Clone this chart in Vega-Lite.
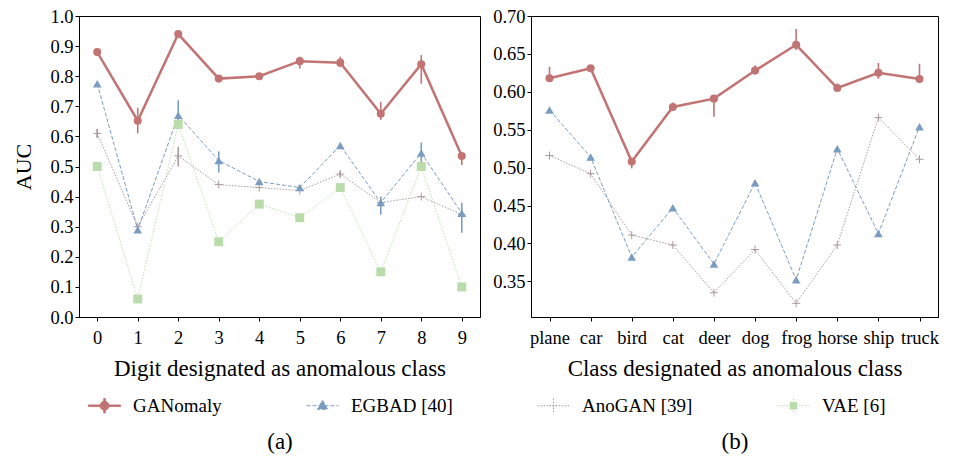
{
  "$schema": "https://vega.github.io/schema/vega-lite/v6.json",
  "padding": {"left": 12, "top": 6, "right": 5, "bottom": 5},
  "background": "white",
  "datasets": {
    "mnist": [
      {"method": "VAE [6]", "x": "0", "y": 0.50},
      {"method": "VAE [6]", "x": "1", "y": 0.06},
      {"method": "VAE [6]", "x": "2", "y": 0.64},
      {"method": "VAE [6]", "x": "3", "y": 0.25},
      {"method": "VAE [6]", "x": "4", "y": 0.375},
      {"method": "VAE [6]", "x": "5", "y": 0.33},
      {"method": "VAE [6]", "x": "6", "y": 0.43},
      {"method": "VAE [6]", "x": "7", "y": 0.15},
      {"method": "VAE [6]", "x": "8", "y": 0.50},
      {"method": "VAE [6]", "x": "9", "y": 0.10},
      {"method": "AnoGAN [39]", "x": "0", "y": 0.61, "lo": 0.595, "hi": 0.625},
      {"method": "AnoGAN [39]", "x": "1", "y": 0.30},
      {"method": "AnoGAN [39]", "x": "2", "y": 0.535, "lo": 0.50, "hi": 0.565},
      {"method": "AnoGAN [39]", "x": "3", "y": 0.44},
      {"method": "AnoGAN [39]", "x": "4", "y": 0.43},
      {"method": "AnoGAN [39]", "x": "5", "y": 0.42},
      {"method": "AnoGAN [39]", "x": "6", "y": 0.475, "lo": 0.465, "hi": 0.485},
      {"method": "AnoGAN [39]", "x": "7", "y": 0.38},
      {"method": "AnoGAN [39]", "x": "8", "y": 0.40},
      {"method": "AnoGAN [39]", "x": "9", "y": 0.34},
      {"method": "EGBAD [40]", "x": "0", "y": 0.775},
      {"method": "EGBAD [40]", "x": "1", "y": 0.29},
      {"method": "EGBAD [40]", "x": "2", "y": 0.67, "lo": 0.625, "hi": 0.72},
      {"method": "EGBAD [40]", "x": "3", "y": 0.52, "lo": 0.48, "hi": 0.55},
      {"method": "EGBAD [40]", "x": "4", "y": 0.45},
      {"method": "EGBAD [40]", "x": "5", "y": 0.43},
      {"method": "EGBAD [40]", "x": "6", "y": 0.57},
      {"method": "EGBAD [40]", "x": "7", "y": 0.38, "lo": 0.34, "hi": 0.40},
      {"method": "EGBAD [40]", "x": "8", "y": 0.545, "lo": 0.51, "hi": 0.58},
      {"method": "EGBAD [40]", "x": "9", "y": 0.345, "lo": 0.28, "hi": 0.38},
      {"method": "GANomaly", "x": "0", "y": 0.88, "lo": 0.87, "hi": 0.89},
      {"method": "GANomaly", "x": "1", "y": 0.652, "lo": 0.61, "hi": 0.695},
      {"method": "GANomaly", "x": "2", "y": 0.94, "lo": 0.93, "hi": 0.948},
      {"method": "GANomaly", "x": "3", "y": 0.792, "lo": 0.785, "hi": 0.80},
      {"method": "GANomaly", "x": "4", "y": 0.80, "lo": 0.795, "hi": 0.808},
      {"method": "GANomaly", "x": "5", "y": 0.85, "lo": 0.825, "hi": 0.865},
      {"method": "GANomaly", "x": "6", "y": 0.845, "lo": 0.83, "hi": 0.865},
      {"method": "GANomaly", "x": "7", "y": 0.675, "lo": 0.655, "hi": 0.715},
      {"method": "GANomaly", "x": "8", "y": 0.84, "lo": 0.775, "hi": 0.87},
      {"method": "GANomaly", "x": "9", "y": 0.535, "lo": 0.505, "hi": 0.545}
    ],
    "cifar": [
      {"method": "AnoGAN [39]", "x": "plane", "y": 0.516},
      {"method": "AnoGAN [39]", "x": "car", "y": 0.492},
      {"method": "AnoGAN [39]", "x": "bird", "y": 0.411},
      {"method": "AnoGAN [39]", "x": "cat", "y": 0.398},
      {"method": "AnoGAN [39]", "x": "deer", "y": 0.335},
      {"method": "AnoGAN [39]", "x": "dog", "y": 0.392},
      {"method": "AnoGAN [39]", "x": "frog", "y": 0.321},
      {"method": "AnoGAN [39]", "x": "horse", "y": 0.398},
      {"method": "AnoGAN [39]", "x": "ship", "y": 0.566},
      {"method": "AnoGAN [39]", "x": "truck", "y": 0.511},
      {"method": "EGBAD [40]", "x": "plane", "y": 0.576},
      {"method": "EGBAD [40]", "x": "car", "y": 0.514},
      {"method": "EGBAD [40]", "x": "bird", "y": 0.382},
      {"method": "EGBAD [40]", "x": "cat", "y": 0.447},
      {"method": "EGBAD [40]", "x": "deer", "y": 0.373},
      {"method": "EGBAD [40]", "x": "dog", "y": 0.480},
      {"method": "EGBAD [40]", "x": "frog", "y": 0.352},
      {"method": "EGBAD [40]", "x": "horse", "y": 0.525},
      {"method": "EGBAD [40]", "x": "ship", "y": 0.413},
      {"method": "EGBAD [40]", "x": "truck", "y": 0.554},
      {"method": "GANomaly", "x": "plane", "y": 0.618, "lo": 0.614, "hi": 0.633},
      {"method": "GANomaly", "x": "car", "y": 0.631, "lo": 0.628, "hi": 0.634},
      {"method": "GANomaly", "x": "bird", "y": 0.508, "lo": 0.499, "hi": 0.512},
      {"method": "GANomaly", "x": "cat", "y": 0.580, "lo": 0.575, "hi": 0.586},
      {"method": "GANomaly", "x": "deer", "y": 0.591, "lo": 0.567, "hi": 0.594},
      {"method": "GANomaly", "x": "dog", "y": 0.628, "lo": 0.623, "hi": 0.635},
      {"method": "GANomaly", "x": "frog", "y": 0.662, "lo": 0.655, "hi": 0.683},
      {"method": "GANomaly", "x": "horse", "y": 0.605, "lo": 0.602, "hi": 0.611},
      {"method": "GANomaly", "x": "ship", "y": 0.625, "lo": 0.617, "hi": 0.638},
      {"method": "GANomaly", "x": "truck", "y": 0.617, "lo": 0.615, "hi": 0.637}
    ]
  },
  "spacing": 11,
  "hconcat": [
    {
      "width": 401,
      "height": 301,
      "data": {"name": "mnist"},
      "encoding": {
        "x": {"field": "x", "type": "ordinal", "scale": {"type": "point", "padding": 0.45},
          "axis": {"title": ["Digit designated as anomalous class", "(a)"], "labelAngle": 0, "titleLineHeight": 73, "labelPadding": 7, "titlePadding": 11}},
        "y": {"field": "y", "type": "quantitative", "title": "AUC", "scale": {"domain": [0, 1], "nice": false},
          "axis": {"values": [0, 0.1, 0.2, 0.3, 0.4, 0.5, 0.6, 0.7, 0.8, 0.9, 1.0], "format": ".1f", "titlePadding": 14, "labelOverlap": false}},
        "color": {"field": "method", "type": "nominal",
          "scale": {"domain": ["GANomaly", "EGBAD [40]", "AnoGAN [39]", "VAE [6]"], "range": ["#c27474", "#7a9cc0", "#aa9a9e", "#b9dcaa"]}},
        "order": {"value": null}
      },
      "layer": [
        {"transform": [{"filter": "datum.method === 'VAE [6]'"}], "mark": {"type": "line", "strokeWidth": 0.9, "strokeDash": [1.5, 1.5]}},
        {"transform": [{"filter": "datum.method === 'AnoGAN [39]'"}], "mark": {"type": "line", "strokeWidth": 1, "strokeDash": [1.5, 1.5]}},
        {"transform": [{"filter": "datum.method === 'EGBAD [40]'"}], "mark": {"type": "line", "strokeWidth": 1, "strokeDash": [4, 2]}},
        {"transform": [{"filter": "datum.method === 'GANomaly'"}], "mark": {"type": "line", "strokeWidth": 2.5}},
        {
          "transform": [{"filter": "isValid(datum.lo)"}],
          "mark": {"type": "rule", "strokeWidth": 1.6},
          "encoding": {"y": {"field": "lo", "type": "quantitative", "title": "AUC"}, "y2": {"field": "hi"}}
        },
        {"transform": [{"filter": "datum.method === 'VAE [6]'"}], "mark": {"type": "point", "shape": "square", "filled": true, "opacity": 1, "size": 80}},
        {"transform": [{"filter": "datum.method === 'AnoGAN [39]'"}], "mark": {"type": "point", "shape": "M-1,0H1M0,-1V1", "filled": false, "opacity": 1, "size": 64, "strokeWidth": 1}},
        {"transform": [{"filter": "datum.method === 'EGBAD [40]'"}], "mark": {"type": "point", "shape": "triangle-up", "filled": true, "opacity": 1, "size": 75}},
        {"transform": [{"filter": "datum.method === 'GANomaly'"}], "mark": {"type": "point", "shape": "circle", "filled": true, "opacity": 1, "size": 65}},
        {
          "transform": [{"filter": "datum.y > 5"}],
          "mark": {"type": "point", "filled": true, "opacity": 1},
          "encoding": {
            "fill": {"field": "method", "type": "nominal", "scale": {"domain": ["GANomaly", "EGBAD [40]", "AnoGAN [39]", "VAE [6]"], "range": ["#c27474", "#7a9cc0", "#aa9a9e", "#b9dcaa"]}},
            "stroke": {"field": "method", "type": "nominal", "scale": {"domain": ["GANomaly", "EGBAD [40]", "AnoGAN [39]", "VAE [6]"], "range": ["#c27474", "#7a9cc0", "#aa9a9e", "#b9dcaa"]}},
            "strokeDash": {"field": "method", "type": "nominal", "scale": {"domain": ["GANomaly", "EGBAD [40]", "AnoGAN [39]", "VAE [6]"], "range": [[1, 0], [4, 2], [1.5, 1.5], [1.5, 1.5]]}},
            "shape": {"field": "method", "type": "nominal",
              "scale": {"domain": ["GANomaly", "EGBAD [40]", "AnoGAN [39]", "VAE [6]"],
                "range": [
                  "M-1,-0.05H1V0.05H-1ZM-0.05,-0.45H0.05V0.45H-0.05ZM0.28,0A0.28,0.28 0 1 1 -0.28,0A0.28,0.28 0 1 1 0.28,0Z",
                  "M-1,0H1M0,-0.34L0.32,0.22L-0.32,0.22Z",
                  "M-1,0H1M0,-0.45V0.45M-0.25,0H0.25",
                  "M-1,0H1M0,-0.45V0.45M-0.22,-0.22H0.22V0.22H-0.22Z"
                ]},
              "legend": {
                "orient": "none", "legendX": 9, "legendY": 373, "direction": "horizontal", "columns": 4,
                "columnPadding": 82, "gridAlign": "each", "title": null, "symbolSize": 1024, "labelOffset": 12,
                "labelFontSize": 19, "symbolStrokeWidth": 1, "symbolOpacity": 1
              }
            }
          }
        }
      ]
    },
    {
      "width": 407,
      "height": 301,
      "data": {"name": "cifar"},
      "encoding": {
        "x": {"field": "x", "type": "ordinal", "sort": ["plane", "car", "bird", "cat", "deer", "dog", "frog", "horse", "ship", "truck"],
          "scale": {"type": "point", "padding": 0.45},
          "axis": {"title": ["Class designated as anomalous class", "(b)"], "labelAngle": 0, "labelOverlap": false, "titleLineHeight": 73, "labelPadding": 7, "titlePadding": 11}},
        "y": {"field": "y", "type": "quantitative", "title": null, "scale": {"domain": [0.303, 0.70], "nice": false, "zero": false},
          "axis": {"values": [0.35, 0.40, 0.45, 0.50, 0.55, 0.60, 0.65, 0.70], "format": ".2f", "labelOverlap": false}},
        "color": {"field": "method", "type": "nominal", "scale": {"domain": ["GANomaly", "EGBAD [40]", "AnoGAN [39]", "VAE [6]"], "range": ["#c27474", "#7a9cc0", "#aa9a9e", "#b9dcaa"]}},
        "order": {"value": null}
      },
      "layer": [
        {"transform": [{"filter": "datum.method === 'AnoGAN [39]'"}], "mark": {"type": "line", "strokeWidth": 1, "strokeDash": [1.5, 1.5]}},
        {"transform": [{"filter": "datum.method === 'EGBAD [40]'"}], "mark": {"type": "line", "strokeWidth": 1, "strokeDash": [4, 2]}},
        {"transform": [{"filter": "datum.method === 'GANomaly'"}], "mark": {"type": "line", "strokeWidth": 2.5}},
        {
          "transform": [{"filter": "isValid(datum.lo)"}],
          "mark": {"type": "rule", "strokeWidth": 1.6},
          "encoding": {"y": {"field": "lo", "type": "quantitative", "title": null}, "y2": {"field": "hi"}}
        },
        {"transform": [{"filter": "datum.method === 'AnoGAN [39]'"}], "mark": {"type": "point", "shape": "M-1,0H1M0,-1V1", "filled": false, "opacity": 1, "size": 64, "strokeWidth": 1}},
        {"transform": [{"filter": "datum.method === 'EGBAD [40]'"}], "mark": {"type": "point", "shape": "triangle-up", "filled": true, "opacity": 1, "size": 75}},
        {"transform": [{"filter": "datum.method === 'GANomaly'"}], "mark": {"type": "point", "shape": "circle", "filled": true, "opacity": 1, "size": 65}}
      ]
    }
  ],
  "config": {
    "font": "Liberation Serif, DejaVu Serif, serif",
    "view": {"stroke": "black", "strokeWidth": 1},
    "axis": {
      "labelFont": "Liberation Serif, DejaVu Serif, serif", "labelFontSize": 18.5, "labelColor": "black",
      "titleFont": "Liberation Serif, DejaVu Serif, serif", "titleFontSize": 23, "titleFontWeight": "normal", "titleColor": "black",
      "domainColor": "black", "tickColor": "black", "grid": false, "tickSize": 4
    },
    "axisY": {"labelPadding": 2, "titleFontSize": 22},
    "legend": {"labelFont": "Liberation Serif, DejaVu Serif, serif", "labelFontSize": 19, "labelColor": "black"}
  }
}
